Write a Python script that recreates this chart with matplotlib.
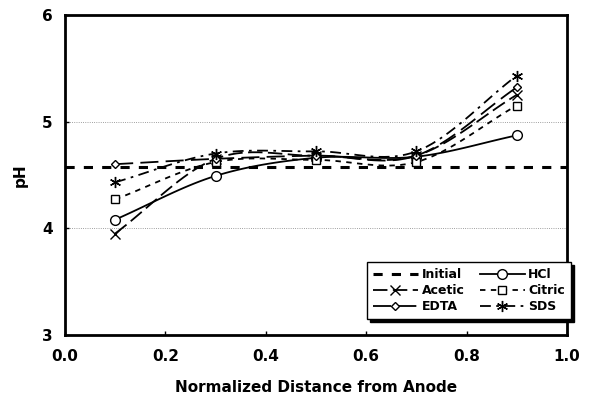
import matplotlib.pyplot as plt
import numpy as np

x = [0.1, 0.3, 0.5, 0.7, 0.9]
hcl = [4.08, 4.49, 4.66, 4.67, 4.87]
acetic = [3.95, 4.65, 4.68, 4.68, 5.25]
citric = [4.27, 4.62, 4.64, 4.62, 5.15]
edta = [4.60, 4.65, 4.68, 4.68, 5.32]
sds = [4.43, 4.70, 4.72, 4.72, 5.43]
initial_x = [0.0, 1.0]
initial_ph = [4.57, 4.57]


def smooth(xs, ys, n=20):
    # catmull-rom style smoothing, like excel's smoothed line
    xs = np.asarray(xs, float)
    ys = np.asarray(ys, float)
    px = np.concatenate([[2*xs[0]-xs[1]], xs, [2*xs[-1]-xs[-2]]])
    py = np.concatenate([[2*ys[0]-ys[1]], ys, [2*ys[-1]-ys[-2]]])
    ox, oy = [], []
    t = np.linspace(0, 1, n)
    for i in range(1, len(px)-2):
        for p, o in ((px, ox), (py, oy)):
            p0, p1, p2, p3 = p[i-1], p[i], p[i+1], p[i+2]
            o.extend(0.5*((2*p1) + (-p0+p2)*t + (2*p0-5*p1+4*p2-p3)*t**2
                          + (-p0+3*p1-3*p2+p3)*t**3))
    return ox, oy


fig = plt.figure(figsize=(6.07, 4.01), dpi=100)
ax = fig.add_axes([0.107, 0.165, 0.827, 0.798])

series = [
    ("HCl", hcl, "-", "o", 7),
    ("Acetic", acetic, (0, (8, 3)), "x", 7),
    ("Citric", citric, (0, (3, 3)), "s", 6),
    ("EDTA", edta, (0, (10, 4)), "D", 4.5),
    ("SDS", sds, (0, (6, 3, 1.5, 3)), (6, 2, 0), 8),
]

ax.plot(initial_x, initial_ph, color="black", lw=2.2, ls=(0, (3, 3)), label="Initial")
handles = {}
for name, ys, ls, mk, ms in series:
    sx, sy = smooth(x, ys)
    ax.plot(sx, sy, color="black", lw=1.3, ls=ls)
    ax.plot(x, ys, ls="none", marker=mk, ms=ms, mfc="white", mec="black", mew=1.0)
    handles[name] = plt.Line2D([], [], color="black", lw=1.3, ls=ls, marker=mk,
                               ms=ms, mfc="white", mec="black")

init_h = plt.Line2D([], [], color="black", lw=2.2, ls=(0, (3, 3)))
order = [init_h, handles["Acetic"], handles["EDTA"], handles["HCl"], handles["Citric"], handles["SDS"]]
labels = ["Initial", "Acetic", "EDTA", "HCl", "Citric", "SDS"]
leg = ax.legend(order, labels, ncol=2, loc="lower right", bbox_to_anchor=(1.02, 0.03),
                fancybox=False, shadow={"ox": 2, "oy": -2, "color": "black", "alpha": 1},
                edgecolor="black", framealpha=1,
                prop={"weight": "bold", "size": 9}, handlelength=3.6,
                columnspacing=1.2, labelspacing=0.25, borderpad=0.45, handletextpad=0.3)
leg.get_frame().set_linewidth(1.0)

ax.set_xlim(0, 1)
ax.set_ylim(3, 6)
ax.set_xticks([0.0, 0.2, 0.4, 0.6, 0.8, 1.0])
ax.set_xticklabels(["0.0", "0.2", "0.4", "0.6", "0.8", "1.0"])
ax.set_yticks([3, 4, 5, 6])
ax.yaxis.grid(True, color="gray", lw=0.6, ls=":")
ax.tick_params(labelsize=11, width=1, direction="in", length=3)
ax.tick_params(axis="x", pad=10)
ax.tick_params(axis="y", pad=9)
for lab in ax.get_xticklabels() + ax.get_yticklabels():
    lab.set_fontweight("bold")
for s in ax.spines.values():
    s.set_linewidth(2)

ax.set_xlabel("Normalized Distance from Anode", fontsize=11, fontweight="bold", labelpad=12)
ax.set_ylabel("pH", fontsize=11, fontweight="bold", labelpad=10)

plt.savefig("out.png", dpi=100)
